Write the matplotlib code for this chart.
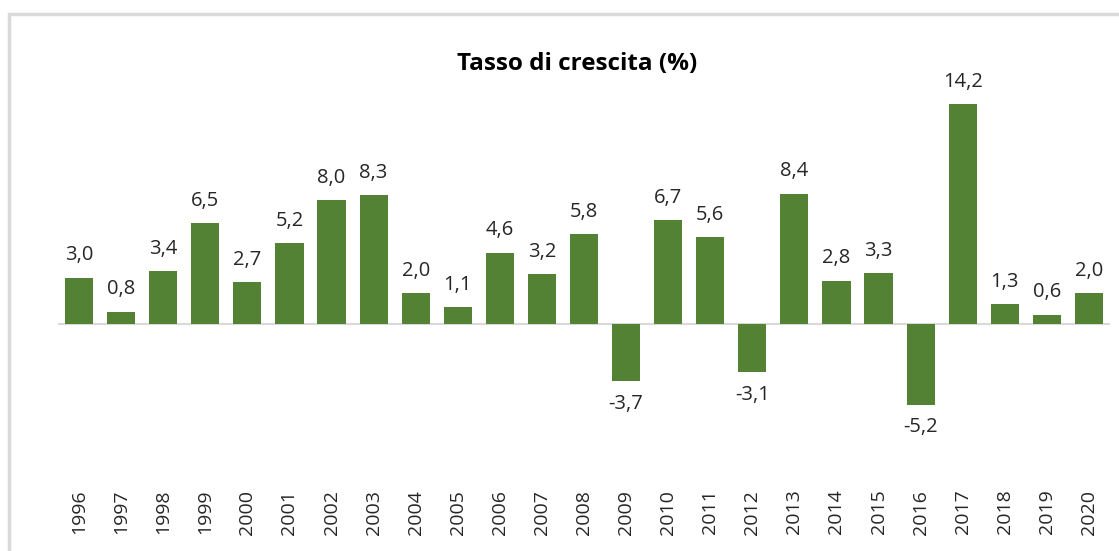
import matplotlib.pyplot as plt
from matplotlib.patches import Rectangle

# dati
anni = ["1996", "1997", "1998", "1999", "2000", "2001", "2002", "2003", "2004",
        "2005", "2006", "2007", "2008", "2009", "2010", "2011", "2012", "2013",
        "2014", "2015", "2016", "2017", "2018", "2019", "2020"]
crescita = [3.0, 0.8, 3.4, 6.5, 2.7, 5.2, 8.0, 8.3, 2.0, 1.1, 4.6, 3.2, 5.8,
            -3.7, 6.7, 5.6, -3.1, 8.4, 2.8, 3.3, -5.2, 14.2, 1.3, 0.6, 2.0]

verde = "#548235"
grigio = "#d9d9d9"

plt.rcParams["font.family"] = ["Open Sans", "DejaVu Sans"]

fig = plt.figure(figsize=(11.19, 5.51), dpi=100)
fig.patches.append(Rectangle((9 / 1119, -0.05), 1.2, 1 - 14 / 551 + 0.05,
                             transform=fig.transFigure, fill=False,
                             edgecolor=grigio, linewidth=2.5))

ax = fig.add_axes([58 / 1119, 71 / 551, 1052 / 1119, 420 / 551])
x = list(range(len(anni)))
ax.bar(x, crescita, width=0.67, color=verde, zorder=2)
ax.axhline(0, color=grigio, linewidth=1.5, zorder=1)

for xi, v in zip(x, crescita):
    testo = f"{v:.1f}".replace(".", ",")
    if v >= 0:
        ax.annotate(testo, (xi, v), xytext=(0, 12.5), textcoords="offset points",
                    ha="center", va="baseline", fontsize=14.5, color="#262626")
    else:
        ax.annotate(testo, (xi, v), xytext=(0, -9), textcoords="offset points",
                    ha="center", va="top", fontsize=14.5, color="#262626")

ax.set_xlim(-0.5, len(anni) - 0.5)
ax.set_ylim(-10.06, 17.03)
ax.set_xticks(x)
ax.set_xticklabels(anni, rotation=90, fontsize=14, color="#262626")
ax.tick_params(axis="x", length=0, pad=7)
ax.set_yticks([])
for s in ax.spines.values():
    s.set_visible(False)

fig.text(577 / 1119, 1 - 64 / 551, "Tasso di crescita (%)", ha="center",
         va="center", fontsize=17.5, fontweight="bold")

fig.savefig("out.png", dpi=100)
